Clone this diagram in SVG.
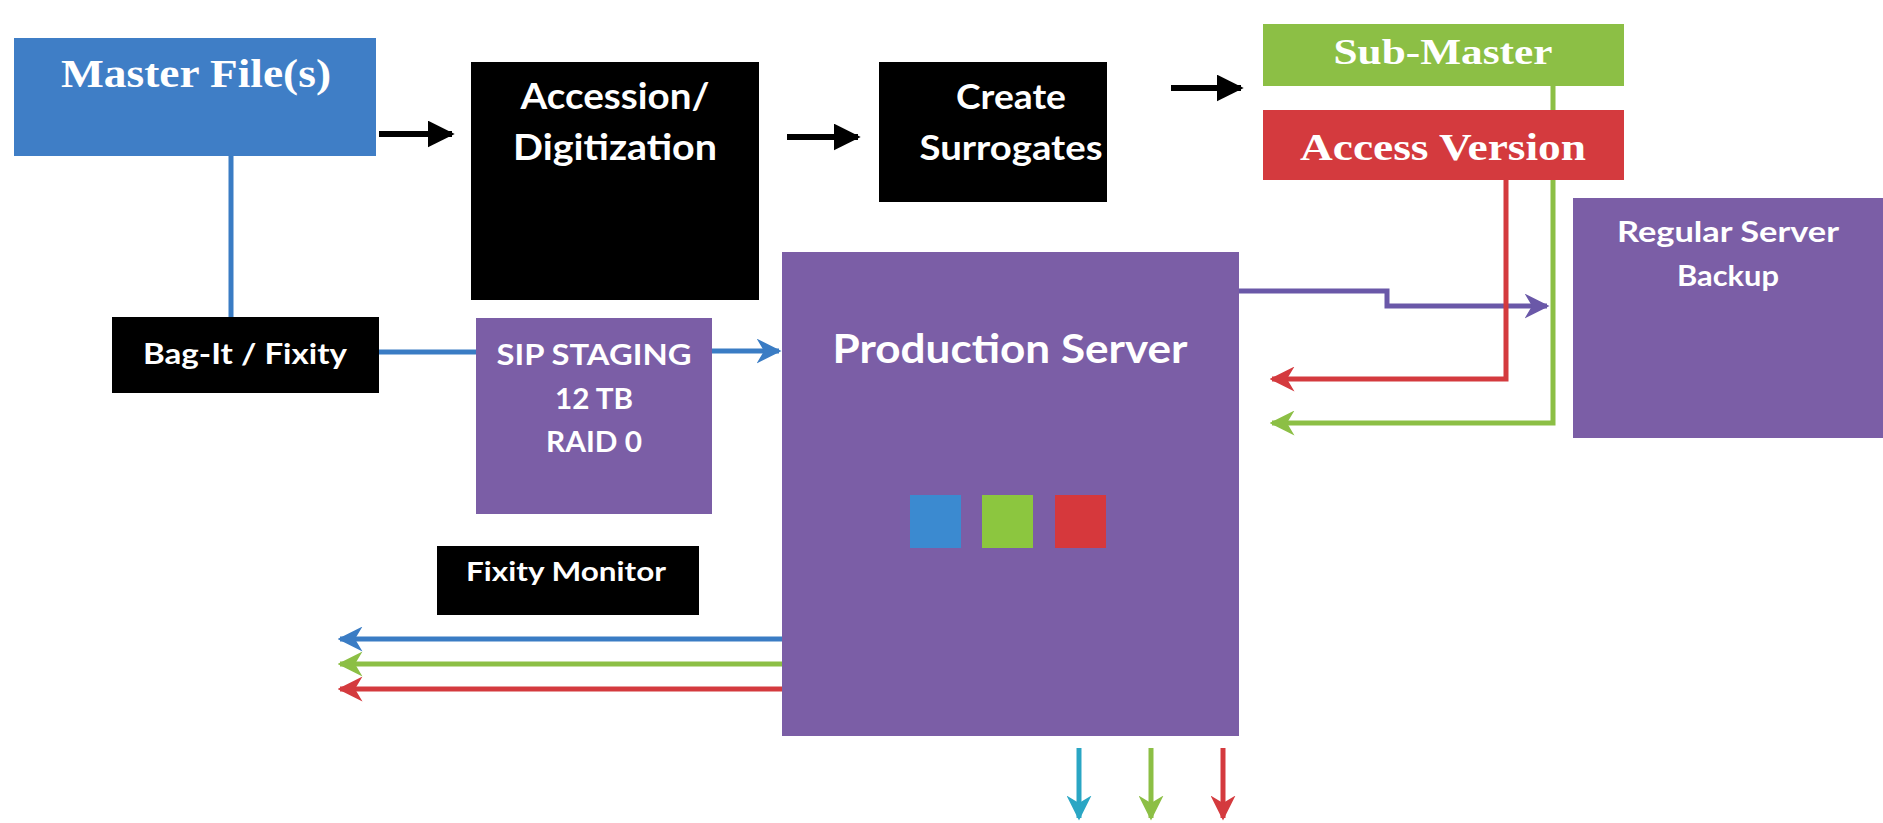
<svg xmlns="http://www.w3.org/2000/svg" width="1883" height="823" viewBox="0 0 1883 823">
<style>
.sans{font-family:Lato,"Open Sans","Liberation Sans",sans-serif;font-weight:bold;fill:#fff}
.serif{font-family:"Liberation Serif","DejaVu Serif",serif;font-weight:bold;fill:#fff}
.blk{fill:#000}
.pur{fill:#7b5ea6}
.ln{fill:none;stroke-width:5}
</style>
<defs>
<marker id="mBlack" viewBox="0 0 10 10" refX="9" refY="5" markerWidth="4.5" markerHeight="4.5" orient="auto" markerUnits="strokeWidth"><path d="M0,0 L10,5 L0,10 z" fill="#000"/></marker>
<marker id="mBlue" viewBox="0 0 10 10" refX="9" refY="5" markerWidth="5" markerHeight="5" orient="auto" markerUnits="strokeWidth"><path d="M0,0 L10,5 L0,10 L3,5 z" fill="#3a7cc4"/></marker>
<marker id="mGreen" viewBox="0 0 10 10" refX="9" refY="5" markerWidth="5" markerHeight="5" orient="auto" markerUnits="strokeWidth"><path d="M0,0 L10,5 L0,10 L3,5 z" fill="#8cbf45"/></marker>
<marker id="mRed" viewBox="0 0 10 10" refX="9" refY="5" markerWidth="5" markerHeight="5" orient="auto" markerUnits="strokeWidth"><path d="M0,0 L10,5 L0,10 L3,5 z" fill="#d43a3e"/></marker>
<marker id="mPurple" viewBox="0 0 10 10" refX="9" refY="5" markerWidth="5" markerHeight="5" orient="auto" markerUnits="strokeWidth"><path d="M0,0 L10,5 L0,10 L3,5 z" fill="#6a58a8"/></marker>
<marker id="mCyan" viewBox="0 0 10 10" refX="9" refY="5" markerWidth="5" markerHeight="5" orient="auto" markerUnits="strokeWidth"><path d="M0,0 L10,5 L0,10 L3,5 z" fill="#2aa6c4"/></marker>
</defs>
<rect width="1883" height="823" fill="#fff"/>

<g id="connectors">
<line x1="379" y1="134" x2="452" y2="134" stroke="#000" stroke-width="6" marker-end="url(#mBlack)"/>
<line x1="787" y1="137" x2="858" y2="137" stroke="#000" stroke-width="6" marker-end="url(#mBlack)"/>
<line x1="1171" y1="88" x2="1241" y2="88" stroke="#000" stroke-width="6" marker-end="url(#mBlack)"/>
<line class="ln" x1="231" y1="156" x2="231" y2="318" stroke="#3a7cc4"/>
<line class="ln" x1="379" y1="352" x2="476" y2="352" stroke="#3a7cc4"/>
<line class="ln" x1="712" y1="351" x2="779" y2="351" stroke="#3a7cc4" marker-end="url(#mBlue)"/>
<polyline class="ln" points="1239,291 1387,291 1387,306 1547,306" stroke="#6a58a8" marker-end="url(#mPurple)"/>
<polyline class="ln" points="1506,180 1506,379 1272,379" stroke="#d43a3e" marker-end="url(#mRed)"/>
<polyline class="ln" points="1553,86 1553,423 1272,423" stroke="#8cbf45" marker-end="url(#mGreen)"/>
<line class="ln" x1="782" y1="639" x2="340" y2="639" stroke="#3a7cc4" stroke-width="7" marker-end="url(#mBlue)"/>
<line class="ln" x1="782" y1="664" x2="340" y2="664" stroke="#8cbf45" stroke-width="7" marker-end="url(#mGreen)"/>
<line class="ln" x1="782" y1="689" x2="340" y2="689" stroke="#d43a3e" stroke-width="7" marker-end="url(#mRed)"/>
<line class="ln" x1="1079" y1="748" x2="1079" y2="818" stroke="#2aa6c4" marker-end="url(#mCyan)"/>
<line class="ln" x1="1151" y1="748" x2="1151" y2="818" stroke="#8cbf45" marker-end="url(#mGreen)"/>
<line class="ln" x1="1223" y1="748" x2="1223" y2="818" stroke="#d43a3e" marker-end="url(#mRed)"/>
</g>

<g id="master">
<rect x="14" y="38" width="362" height="118" fill="#3f7ec6"/>
<text class="serif" x="196" y="87" font-size="39" text-anchor="middle" textLength="270" lengthAdjust="spacingAndGlyphs">Master File(s)</text>
</g>
<g id="accession">
<rect class="blk" x="471" y="62" width="288" height="238"/>
<text class="sans" x="615" y="109" font-size="36" text-anchor="middle" textLength="189" lengthAdjust="spacingAndGlyphs">Accession/</text>
<text class="sans" x="615" y="160" font-size="36" text-anchor="middle" textLength="204" lengthAdjust="spacingAndGlyphs">Digitization</text>
</g>
<g id="surrogates">
<rect class="blk" x="879" y="62" width="228" height="140"/>
<text class="sans" x="1011" y="109" font-size="34" text-anchor="middle" textLength="110" lengthAdjust="spacingAndGlyphs">Create</text>
<text class="sans" x="1011" y="160" font-size="34" text-anchor="middle" textLength="183" lengthAdjust="spacingAndGlyphs">Surrogates</text>
</g>
<g id="submaster">
<rect x="1263" y="24" width="361" height="62" fill="#8cbf45"/>
<text class="serif" x="1443" y="64" font-size="36" text-anchor="middle" textLength="219" lengthAdjust="spacingAndGlyphs">Sub-Master</text>
</g>
<g id="access">
<rect x="1263" y="110" width="361" height="70" fill="#d43a3e"/>
<text class="serif" x="1443" y="160" font-size="38" text-anchor="middle" textLength="286" lengthAdjust="spacingAndGlyphs">Access Version</text>
</g>
<g id="backup">
<rect class="pur" x="1573" y="198" width="310" height="240"/>
<text class="sans" x="1728" y="242" font-size="28" text-anchor="middle" textLength="222" lengthAdjust="spacingAndGlyphs">Regular Server</text>
<text class="sans" x="1728" y="286" font-size="28" text-anchor="middle" textLength="102" lengthAdjust="spacingAndGlyphs">Backup</text>
</g>
<g id="production">
<rect class="pur" x="782" y="252" width="457" height="484"/>
<text class="sans" x="1010" y="363" font-size="40" text-anchor="middle" textLength="355" lengthAdjust="spacingAndGlyphs">Production Server</text>
<rect x="910" y="495" width="51" height="53" fill="#3b8ad0"/>
<rect x="982" y="495" width="51" height="53" fill="#8cc63f"/>
<rect x="1055" y="495" width="51" height="53" fill="#d6383c"/>
</g>
<g id="bagit">
<rect class="blk" x="112" y="317" width="267" height="76"/>
<text class="sans" x="245" y="364" font-size="28" text-anchor="middle" textLength="204" lengthAdjust="spacingAndGlyphs">Bag-It / Fixity</text>
</g>
<g id="sip">
<rect class="pur" x="476" y="318" width="236" height="196"/>
<text class="sans" x="594" y="365" font-size="29" text-anchor="middle" textLength="195" lengthAdjust="spacingAndGlyphs">SIP STAGING</text>
<text class="sans" x="594" y="409" font-size="29" text-anchor="middle" textLength="78" lengthAdjust="spacingAndGlyphs">12 TB</text>
<text class="sans" x="594" y="452" font-size="29" text-anchor="middle" textLength="96" lengthAdjust="spacingAndGlyphs">RAID 0</text>
</g>
<g id="fixitymonitor">
<rect class="blk" x="437" y="546" width="262" height="69"/>
<text class="sans" x="566" y="581" font-size="26" text-anchor="middle" textLength="200" lengthAdjust="spacingAndGlyphs">Fixity Monitor</text>
</g>
</svg>
